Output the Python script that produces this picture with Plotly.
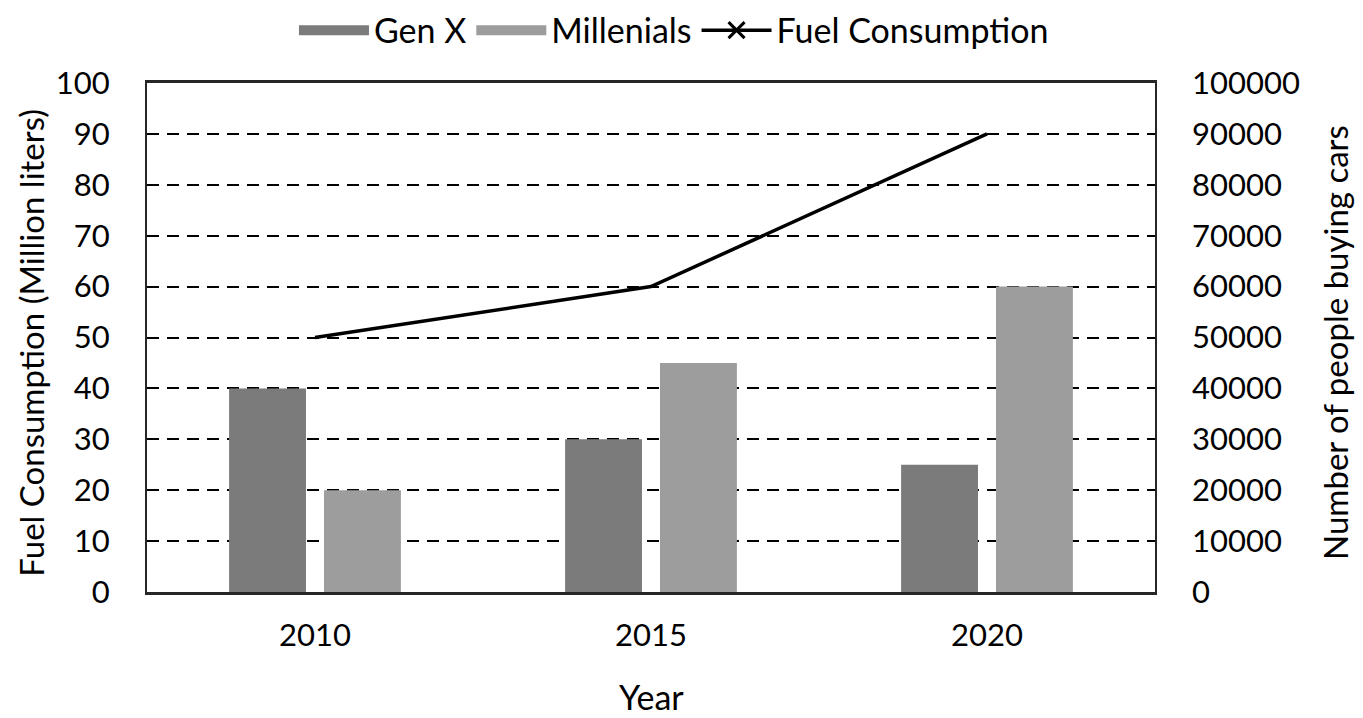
import plotly.graph_objects as go

years = ["2010", "2015", "2020"]
gen_x = [40000, 30000, 25000]
millenials = [20000, 45000, 60000]
fuel = [50, 60, 90]
left_ticks = [0, 10, 20, 30, 40, 50, 60, 70, 80, 90, 100]
right_ticks = [0, 10000, 20000, 30000, 40000, 50000, 60000, 70000, 80000, 90000, 100000]

FONT = "Lato"
FS = 34
TFS = 31
LFS = 34
GENX_COLOR = "#7b7b7b"
MILL_COLOR = "#9d9d9d"

fig = go.Figure()
fig.add_trace(go.Bar(x=years, y=gen_x, name="Gen X", yaxis="y2", showlegend=False,
                     marker=dict(color=GENX_COLOR, line=dict(width=0))))
fig.add_trace(go.Bar(x=years, y=millenials, name="Millenials", yaxis="y2", showlegend=False,
                     marker=dict(color=MILL_COLOR, line=dict(width=0))))
fig.add_trace(go.Scatter(x=years, y=fuel, name="Fuel Consumption", mode="lines",
                         line=dict(color="black", width=3.5), showlegend=False, yaxis="y"))
# legend-only entries
fig.add_trace(go.Scatter(x=[None], y=[None], name="Gen X", mode="lines",
                         line=dict(color=GENX_COLOR, width=18), yaxis="y"))
fig.add_trace(go.Scatter(x=[None], y=[None], name="Millenials", mode="lines",
                         line=dict(color=MILL_COLOR, width=18), yaxis="y"))
fig.add_trace(go.Scatter(x=[None], y=[None], name="Fuel Consumption", mode="lines+markers",
                         line=dict(color="black", width=3.5),
                         marker=dict(symbol="x-thin", size=16, line=dict(color="black", width=3)),
                         yaxis="y"))

fig.update_layout(
    width=1363, height=718,
    margin=dict(l=139, r=216, t=75, b=134, autoexpand=False),
    paper_bgcolor="white", plot_bgcolor="white",
    font=dict(family=FONT, size=FS, color="black"),
    barmode="group", bargap=0.435, bargroupgap=0.19,
    showlegend=True,
    legend=dict(orientation="h", x=0.4886, xref="container", xanchor="center",
                y=1.103, yref="paper", yanchor="middle",
                font=dict(size=LFS), traceorder="normal", itemwidth=70),
    xaxis=dict(
        showline=True, linecolor="#262626", linewidth=2.5, mirror=True,
        showgrid=False, ticks="", ticklabelstandoff=14, tickfont=dict(size=TFS),
    ),
    yaxis=dict(
        range=[0, 100], tickvals=left_ticks, showline=True, linecolor="#262626",
        linewidth=2, mirror=True, showgrid=True, gridcolor="black", gridwidth=2,
        griddash="12px,8px", zeroline=False, ticks="", ticklabelstandoff=29,
        tickfont=dict(size=TFS),
    ),
    yaxis2=dict(
        range=[0, 100000], tickvals=right_ticks, overlaying="y", side="right",
        showgrid=False, zeroline=False, showline=False, ticks="", ticklabelstandoff=36,
        tickformat="d", tickfont=dict(size=TFS),
    ),
    annotations=[
        dict(text="Year", xref="paper", yref="paper", x=0.5, y=-0.206,
             xanchor="center", yanchor="middle", showarrow=False, font=dict(size=FS)),
        dict(text="Fuel Consumption (Million liters)", xref="paper", yref="paper",
             x=-0.115, y=0.49, textangle=-90, xanchor="center", yanchor="middle",
             showarrow=False, font=dict(size=33)),
        dict(text="Number of people buying cars", xref="paper", yref="paper",
             x=1.178, y=0.49, textangle=-90, xanchor="center", yanchor="middle",
             showarrow=False, font=dict(size=33)),
    ],
)

fig.write_html("out.html")
